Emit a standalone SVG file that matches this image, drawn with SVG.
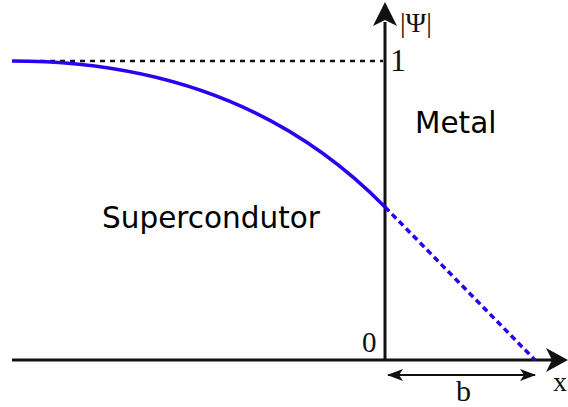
<svg xmlns="http://www.w3.org/2000/svg" width="568" height="407" viewBox="0 0 568 407">
<style>
.ax{stroke:#111;stroke-width:3;fill:none}
.blue{stroke:#2b00f0;stroke-width:3.5;fill:none}
.serif{font-family:"Liberation Serif","DejaVu Serif",serif;fill:#111}
.sans{font-family:"DejaVu Sans",sans-serif;fill:#000;font-size:29.5px}
</style>
<defs>
<marker id="bh" viewBox="0 0 16 12" refX="15" refY="6" markerWidth="16" markerHeight="12" markerUnits="userSpaceOnUse" orient="auto-start-reverse">
<path d="M0,0 L16,6 L0,12 L4,6 Z" fill="#111"/>
</marker>
</defs>
<g id="connectors">
<path id="dashref" d="M40,61 L383,61" stroke="#111" stroke-width="2.5" stroke-dasharray="5,5" fill="none"/>
<path id="xaxis" class="ax" d="M12,360 L552,360"/>
<path id="yaxis" class="ax" d="M385,361 L385,22"/>
<path d="M568,360 L546,348 L552,360 L546,372 Z" fill="#111"/>
<path d="M385,2 L373,26 L385,20 L397,26 Z" fill="#111"/>
<path id="curve" class="blue" d="M12,61 Q242,61 385,207"/>
<path id="dashblue" class="blue" stroke-dasharray="6,4" d="M385,207 L535,360"/>
<path id="barb" stroke="#111" stroke-width="2" fill="none" d="M388,375 L535,375" marker-start="url(#bh)" marker-end="url(#bh)"/>
</g>
<g id="labels">
<text class="serif" x="400" y="32" font-size="28">|Ψ|</text>
<text class="serif" x="390" y="71" font-size="32">1</text>
<text class="serif" x="362" y="352" font-size="29">0</text>
<text class="serif" x="456" y="401" font-size="30">b</text>
<text class="serif" x="553" y="391" font-size="28">x</text>
</g>
<g id="metal"><text class="sans" x="415" y="133">Metal</text></g>
<g id="supercondutor"><text class="sans" x="102" y="228">Supercondutor</text></g>
</svg>
